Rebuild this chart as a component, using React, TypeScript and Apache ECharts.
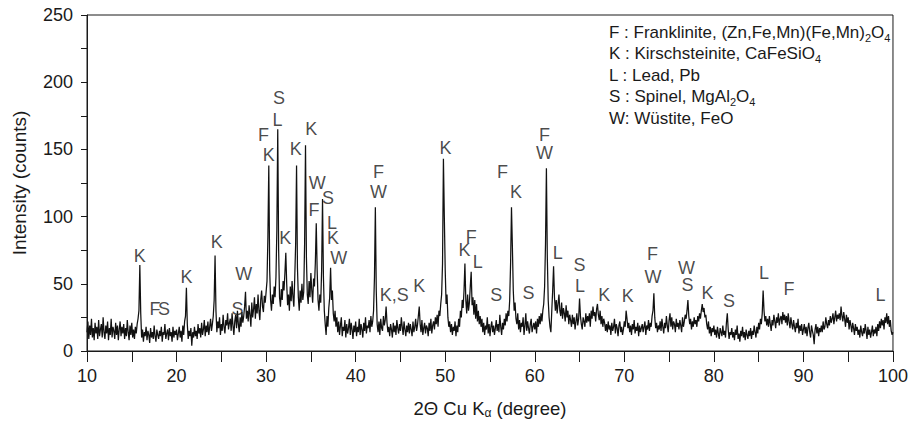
import React, { useEffect, useRef } from "react";
import * as echarts from "echarts";

const FONT = '"Liberation Sans", Arial, Helvetica, sans-serif';
const INK = "#1a1a1a";

const START_DEG = 10;
const STEP_DEG = 0.1;
const intensity = [
  14, 22, 9, 19, 12, 24, 10, 17, 8, 21, 13, 18, 9, 23, 11, 16, 20, 10, 25, 14,
  9, 19, 13, 22, 8, 17, 12, 24, 10, 18, 15, 9, 21, 12, 19, 8, 16, 22, 11, 18,
  13, 20, 9, 17, 11, 23, 14, 8, 19, 12, 21, 10, 16, 9, 18, 13, 20, 24, 30, 64,
  28, 10, 16, 7, 14, 11, 18, 8, 15, 12, 6, 17, 10, 14, 9, 19, 11, 7, 16, 12,
  9, 15, 11, 18, 7, 14, 12, 20, 9, 13, 16, 8, 17, 11, 14, 7, 18, 10, 15, 12,
  16, 8, 13, 18, 10, 15, 7, 19, 12, 22, 26, 47, 20, 9, 15, 11, 17, 4, 14, 10,
  18, 11, 15, 9, 20, 13, 17, 10, 21, 12, 16, 23, 11, 19, 14, 22, 12, 18, 24, 15,
  20, 26, 38, 71, 30, 14, 22, 17, 25, 12, 20, 15, 27, 18, 13, 23, 19, 28, 16, 21,
  24, 15, 28, 19, 12, 22, 27, 17, 30, 20, 14, 25, 18, 29, 21, 26, 33, 44, 24, 30,
  22, 34, 27, 18, 36, 25, 31, 40, 24, 35, 28, 42, 30, 23, 38, 45, 33, 29, 41, 36,
  44, 52, 85, 138, 60, 38, 30, 42, 35, 48, 40, 55, 90, 165, 75, 40, 33, 46, 38, 52,
  45, 58, 73, 50, 34, 42, 30, 48, 37, 52, 40, 33, 55, 80, 138, 62, 40, 30, 45, 36,
  50, 38, 44, 80, 153, 70, 42, 35, 52, 40, 58, 45, 36, 54, 48, 66, 95, 60, 38, 30,
  42, 36, 60, 113, 55, 30, 20, 12, 26, 18, 32, 40, 62, 38, 45, 28, 22, 30, 18, 25,
  14, 22, 12, 19, 25, 11, 18, 15, 23, 10, 20, 13, 17, 24, 12, 21, 16, 9, 19, 14,
  22, 11, 18, 14, 24, 12, 20, 16, 10, 21, 15, 25, 13, 19, 17, 23, 14, 26, 18, 22,
  30, 55, 107, 45, 20, 14, 22, 12, 24, 17, 15, 26, 19, 23, 33, 21, 14, 18, 11, 20,
  16, 10, 21, 14, 19, 12, 23, 17, 13, 20, 15, 25, 18, 12, 22, 16, 11, 19, 14, 21,
  13, 20, 16, 11, 22, 14, 18, 24, 15, 19, 26, 33, 20, 14, 23, 12, 17, 21, 13, 19,
  17, 11, 21, 15, 24, 13, 19, 22, 16, 25, 20, 27, 18, 30, 26, 35, 42, 65, 143, 100,
  60, 35, 42, 25, 18, 22, 14, 20, 12, 18, 15, 22, 11, 19, 14, 24, 18, 30, 25, 38,
  32, 45, 65, 38, 28, 42, 30, 36, 48, 59, 34, 40, 27, 38, 24, 35, 22, 30, 20, 26,
  18, 24, 14, 21, 12, 19, 16, 25, 13, 20, 11, 18, 22, 14, 19, 12, 17, 23, 15, 20,
  14, 27, 18, 12, 21, 16, 24, 19, 28, 22, 30, 26, 38, 65, 107, 78, 45, 30, 36, 24,
  20, 28, 16, 23, 14, 21, 18, 25, 12, 19, 28, 15, 22, 17, 13, 20, 24, 14, 18, 21,
  16, 22, 13, 24, 18, 26, 20, 28, 22, 30, 35, 48, 80, 136, 70, 38, 25, 18, 14, 30,
  45, 63, 40, 30, 38, 28, 35, 42, 30, 26, 36, 24, 32, 28, 22, 34, 25, 30, 20, 27,
  23, 18, 27, 20, 25, 16, 22, 28, 19, 24, 39, 26, 20, 16, 25, 22, 18, 28, 21, 26,
  22, 28, 18, 30, 24, 33, 26, 29, 22, 31, 35, 27, 23, 30, 20, 26, 18, 24, 21, 15,
  20, 14, 22, 16, 19, 12, 21, 15, 18, 24, 13, 20, 17, 11, 19, 22, 14, 18, 12, 16,
  22, 18, 30, 24, 17, 21, 14, 19, 12, 20, 16, 23, 13, 18, 15, 21, 11, 19, 14, 17,
  20, 14, 18, 22, 12, 19, 16, 23, 15, 21, 18, 26, 30, 43, 25, 17, 21, 14, 19, 16,
  22, 15, 24, 18, 13, 21, 17, 26, 19, 14, 23, 28, 18, 25, 16, 22, 20, 14, 24, 18,
  21, 16, 23, 19, 14, 25, 18, 22, 27, 24, 30, 38, 26, 20, 24, 16, 22, 18, 25, 20,
  23, 18, 26, 22, 28, 24, 30, 35, 29, 32, 25, 27, 20, 16, 22, 13, 18, 11, 17, 14,
  19, 12, 16, 10, 18, 13, 9, 17, 14, 11, 19, 12, 15, 10, 21, 28, 16, 9, 14, 12,
  17, 10, 14, 8, 16, 12, 19, 9, 13, 7, 15, 11, 18, 10, 14, 8, 16, 12, 9, 15,
  11, 17, 9, 15, 12, 19, 14, 10, 18, 13, 21, 16, 24, 20, 28, 45, 30, 22, 26, 19,
  24, 18, 26, 20, 15, 23, 19, 27, 22, 17, 25, 21, 28, 19, 24, 26, 20, 29, 23, 27,
  21, 26, 19, 28, 22, 17, 25, 20, 16, 23, 18, 14, 21, 17, 24, 13, 19, 15, 20, 12,
  16, 20, 13, 18, 11, 17, 21, 14, 10, 19, 15, 12, 5, 16, 20, 13, 18, 11, 17, 14,
  19, 14, 22, 16, 18, 25, 20, 17, 23, 19, 26, 21, 24, 28, 20, 25, 30, 22, 27, 24,
  28, 23, 33, 26, 22, 29, 24, 18, 27, 21, 25, 16, 23, 19, 14, 21, 17, 12, 20, 15,
  18, 12, 16, 10, 19, 14, 11, 17, 13, 20, 15, 9, 18, 12, 16, 10, 14, 19, 11, 16,
  13, 18, 11, 20, 15, 22, 17, 24, 19, 23, 16, 25, 21, 28, 20, 26, 18, 23, 15, 12,
  14,
];
const twoTheta = intensity.map((_, i) => +(START_DEG + i * STEP_DEG).toFixed(1));

// Phase labels over the peaks: letter, 2θ position, height (counts)
const peakLetters = [
  "K", "F", "S", "K", "K", "S", "W", "F", "K", "L", "S", "K", "K", "K", "W", "F",
  "S", "L", "K", "W", "F", "W", "K,S", "K", "K", "K", "F", "L", "S", "F", "K", "S",
  "F", "W", "L", "S", "L", "K", "K", "F", "W", "W", "S", "K", "S", "L", "F", "L",
];
const peakDeg = [
  15.9, 17.6, 18.6, 21.1, 24.5, 26.8, 27.5, 29.7, 30.3, 31.27, 31.45, 32.15, 33.3, 35.05, 35.7, 35.35,
  36.9, 37.35, 37.47, 38.1, 42.56, 42.56, 44.3, 47.1, 50.04, 52.15, 52.9, 53.64, 55.7, 56.4, 57.9, 59.3,
  61.1, 61.1, 62.56, 65.0, 65.06, 67.77, 70.37, 73.15, 73.2, 76.95, 77.06, 79.3, 81.7, 85.6, 88.4, 98.6,
];
const peakHeight = [
  71, 31, 31, 55, 81, 31, 57, 161, 146, 172, 188, 84, 150, 165, 125, 105,
  114, 95, 84, 69, 133, 118.5, 42, 48, 151, 75, 85, 66.5, 42, 133, 118.5, 43,
  161, 147.5, 73, 64, 48, 42, 41, 72, 55, 61.5, 49, 43, 37, 58, 46, 42,
];

// Phase key
const phaseKey = [
  "F : Franklinite, (Zn,Fe,Mn)(Fe,Mn){s|2}O{s|4}",
  "K : Kirschsteinite, CaFeSiO{s|4}",
  "L : Lead, Pb",
  "S : Spinel, MgAl{s|2}O{s|4}",
  "W: Wüstite, FeO",
];

const xTickLabels = ["10", "20", "30", "40", "50", "60", "70", "80", "90", "100"];
const yTickLabels = ["0", "50", "100", "150", "200", "250"];

export default function App() {
  const ref = useRef<HTMLDivElement>(null);

  useEffect(() => {
    const chart = echarts.init(ref.current!, null, { renderer: "svg" });
    const subRich = {
      s: { fontSize: 11, lineHeight: 11, verticalAlign: "bottom", fontFamily: FONT, fill: INK, color: INK },
    };
    chart.setOption({
      animation: false,
      backgroundColor: "#fff",
      textStyle: { fontFamily: FONT },
      grid: {
        left: 87,
        right: 17,
        top: 15,
        bottom: 74,
        show: true,
        borderColor: INK,
        borderWidth: 1,
        backgroundColor: "transparent",
      },
      xAxis: {
        type: "value",
        min: 10,
        max: 100,
        interval: 5,
        axisLine: { show: true, lineStyle: { color: INK, width: 1 } },
        axisTick: { show: true, inside: false, length: 11, lineStyle: { color: INK, width: 1 } },
        splitLine: { show: false },
        axisLabel: {
          fontSize: 18,
          color: INK,
          fontFamily: FONT,
          margin: 16,
          showMinLabel: true,
          showMaxLabel: true,
          formatter: (v: number) => (xTickLabels.includes(String(v)) ? String(v) : ""),
        },
        name: "2Θ Cu K{s|α} (degree)",
        nameLocation: "middle",
        nameGap: 46,
        nameTextStyle: {
          fontSize: 18.5,
          color: INK,
          fontFamily: FONT,
          lineHeight: 22,
          rich: { s: { fontSize: 12, lineHeight: 11, verticalAlign: "bottom", fontFamily: FONT, color: INK } },
        },
      },
      yAxis: {
        type: "value",
        min: 0,
        max: 250,
        interval: 25,
        axisLine: { show: true, lineStyle: { color: INK, width: 1 } },
        axisTick: { show: true, inside: false, length: 6, lineStyle: { color: INK, width: 1 } },
        splitLine: { show: false },
        axisLabel: {
          fontSize: 18,
          color: INK,
          fontFamily: FONT,
          margin: 14,
          formatter: (v: number) => (yTickLabels.includes(String(v)) ? String(v) : ""),
        },
        name: "Intensity (counts)",
        nameLocation: "middle",
        nameGap: 58,
        nameTextStyle: { fontSize: 19, color: INK, fontFamily: FONT },
      },
      series: [
        {
          type: "line",
          data: twoTheta.map((x, i) => [x, intensity[i]]),
          symbol: "none",
          showSymbol: false,
          silent: true,
          lineStyle: { color: "#111", width: 1.25 },
          z: 2,
        },
        {
          type: "scatter",
          data: peakDeg.map((x, i) => [x, peakHeight[i]]),
          symbolSize: 1,
          itemStyle: { color: "rgba(0,0,0,0)" },
          silent: true,
          z: 3,
          label: {
            show: true,
            position: "inside",
            align: "center",
            verticalAlign: "middle",
            fontSize: 18,
            color: INK,
            fontFamily: FONT,
            formatter: (p: any) => peakLetters[p.dataIndex],
          },
        },
      ],
      graphic: phaseKey.map((t, i) => ({
        type: "text",
        x: 609,
        y: 32 + i * 21.5,
        silent: true,
        style: {
          text: t,
          fill: INK,
          fontSize: 17,
          fontFamily: FONT,
          lineHeight: 22,
          verticalAlign: "middle",
          align: "left",
          rich: subRich,
        },
      })),
    });
    return () => chart.dispose();
  }, []);

  return (
    <div
      ref={ref}
      style={{ position: "fixed", left: 0, top: 0, width: 911, height: 425, background: "#fff" }}
    />
  );
}
